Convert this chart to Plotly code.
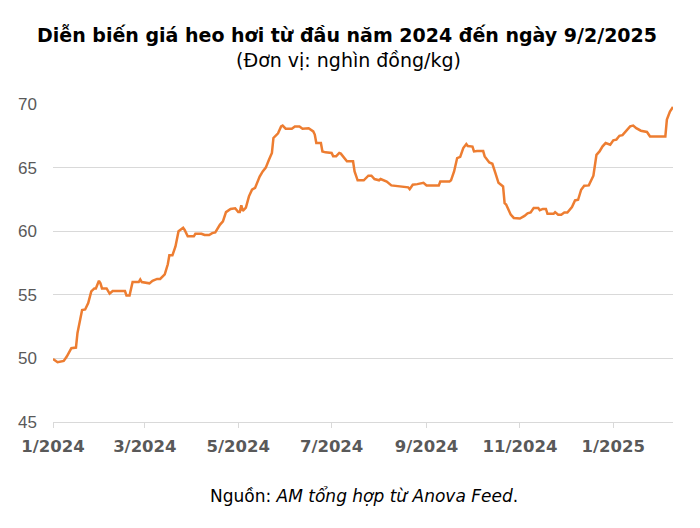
import plotly.graph_objects as go

dates = [
    "2024-01-01", "2024-01-04", "2024-01-08", "2024-01-10", "2024-01-13", "2024-01-16",
    "2024-01-17", "2024-01-19", "2024-01-20", "2024-01-22", "2024-01-24", "2024-01-26",
    "2024-01-28", "2024-01-29", "2024-01-31", "2024-02-01", "2024-02-02", "2024-02-05",
    "2024-02-07", "2024-02-09", "2024-02-17", "2024-02-18", "2024-02-20", "2024-02-22",
    "2024-02-26", "2024-02-27", "2024-02-28", "2024-03-04", "2024-03-06", "2024-03-09",
    "2024-03-11", "2024-03-14", "2024-03-16", "2024-03-17", "2024-03-19", "2024-03-21",
    "2024-03-22", "2024-03-23", "2024-03-26", "2024-03-27", "2024-03-29", "2024-04-02",
    "2024-04-03", "2024-04-07", "2024-04-09", "2024-04-12", "2024-04-14", "2024-04-16",
    "2024-04-19", "2024-04-21", "2024-04-23", "2024-04-26", "2024-04-29", "2024-05-01",
    "2024-05-02", "2024-05-03", "2024-05-04", "2024-05-06", "2024-05-08", "2024-05-10",
    "2024-05-12", "2024-05-15", "2024-05-17", "2024-05-19", "2024-05-21", "2024-05-23",
    "2024-05-24", "2024-05-26", "2024-05-27", "2024-05-29", "2024-05-30", "2024-06-01",
    "2024-06-05", "2024-06-07", "2024-06-10", "2024-06-12", "2024-06-16", "2024-06-19",
    "2024-06-20", "2024-06-21", "2024-06-24", "2024-06-25", "2024-06-27", "2024-07-01",
    "2024-07-02", "2024-07-04", "2024-07-06", "2024-07-07", "2024-07-09", "2024-07-11",
    "2024-07-15", "2024-07-16", "2024-07-18", "2024-07-22", "2024-07-25", "2024-07-27",
    "2024-07-29", "2024-08-01", "2024-08-02", "2024-08-06", "2024-08-09", "2024-08-12",
    "2024-08-14", "2024-08-18", "2024-08-20", "2024-08-21", "2024-08-23", "2024-08-26",
    "2024-08-30", "2024-09-01", "2024-09-09", "2024-09-10", "2024-09-16", "2024-09-17",
    "2024-09-19", "2024-09-21", "2024-09-23", "2024-09-25", "2024-09-27", "2024-09-28",
    "2024-10-01", "2024-10-02", "2024-10-04", "2024-10-08", "2024-10-09", "2024-10-12",
    "2024-10-14", "2024-10-16", "2024-10-18", "2024-10-21", "2024-10-22", "2024-10-23",
    "2024-10-26", "2024-10-28", "2024-11-01", "2024-11-04", "2024-11-06", "2024-11-08",
    "2024-11-10", "2024-11-13", "2024-11-14", "2024-11-16", "2024-11-18", "2024-11-19",
    "2024-11-23", "2024-11-24", "2024-11-26", "2024-11-28", "2024-11-30", "2024-12-02",
    "2024-12-05", "2024-12-07", "2024-12-09", "2024-12-11", "2024-12-13", "2024-12-16",
    "2024-12-18", "2024-12-19", "2024-12-21", "2024-12-23", "2024-12-25", "2024-12-27",
    "2024-12-30", "2025-01-01", "2025-01-03", "2025-01-05", "2025-01-07", "2025-01-09",
    "2025-01-12", "2025-01-14", "2025-01-16", "2025-01-19", "2025-01-23", "2025-01-25",
    "2025-02-04", "2025-02-05", "2025-02-07", "2025-02-09",
]

prices = [
    49.95, 49.7, 49.8, 50.15, 50.8, 50.85,
    52.0, 53.2, 53.8, 53.85, 54.35, 55.27,
    55.5, 55.5, 56.1, 55.9, 55.5, 55.5,
    55.1, 55.3, 55.3, 54.95, 54.95, 56.0,
    56.0, 56.2, 56.0, 55.9, 56.1, 56.25,
    56.25, 56.6, 57.4, 58.1, 58.1, 58.8,
    59.33, 60.0, 60.27, 60.1, 59.6, 59.6,
    59.8, 59.8, 59.7, 59.7, 59.85, 59.9,
    60.5, 60.77, 61.5, 61.75, 61.8, 61.5,
    61.5, 62.03, 61.6, 61.85, 62.74, 63.26,
    63.4, 64.3, 64.7, 65.0, 65.6, 66.15,
    67.33, 67.6, 67.7, 68.24, 68.3, 68.06,
    68.06, 68.24, 68.24, 68.06, 68.1, 67.85,
    67.6, 66.93, 66.93, 66.27, 66.2, 66.15,
    65.9, 65.9, 66.15, 66.1, 65.75, 65.5,
    65.5, 64.7, 64.0, 64.0, 64.36, 64.36,
    64.1, 64.0, 64.1, 63.9, 63.6, 63.55,
    63.5, 63.47, 63.45, 63.3, 63.65, 63.7,
    63.8, 63.6, 63.6, 63.9, 63.9, 64.0,
    64.7, 65.75, 65.85, 66.54, 66.85, 66.7,
    66.65, 66.27, 66.3, 66.3, 65.88, 65.4,
    65.3, 64.57, 63.8, 63.52, 62.2, 62.1,
    61.3, 61.04, 61.0, 61.2, 61.4, 61.47,
    61.82, 61.82, 61.65, 61.75, 61.75, 61.37,
    61.37, 61.5, 61.3, 61.3, 61.47, 61.47,
    61.9, 62.42, 62.47, 63.26, 63.58, 63.6,
    64.18, 64.36, 66.0, 66.27, 66.67, 66.93,
    66.8, 67.14, 67.2, 67.5, 67.55, 67.85,
    68.24, 68.3, 68.1, 67.9, 67.8, 67.45,
    67.45, 68.77, 69.4, 69.76,
]

tick_dates = ["2024-01-01", "2024-03-01", "2024-05-01", "2024-07-01",
              "2024-09-01", "2024-11-01", "2025-01-01"]
tick_labels = ["1/2024", "3/2024", "5/2024", "7/2024", "9/2024", "11/2024", "1/2025"]
y_ticks = [45, 50, 55, 60, 65, 70]

NUM_FONT = "Liberation Sans"
TXT_FONT = "DejaVu Sans"

fig = go.Figure()
fig.add_trace(go.Scatter(
    x=dates, y=prices, mode="lines",
    line=dict(color="#ED7D31", width=2.5),
    hoverinfo="x+y",
))

fig.update_layout(
    width=692, height=520,
    margin=dict(l=45, r=27, t=96, b=106),
    paper_bgcolor="white", plot_bgcolor="white",
    showlegend=False,
    font=dict(family=TXT_FONT, color="#595959"),
    xaxis=dict(
        type="date",
        range=["2024-01-01", "2025-02-09"],
        tickvals=tick_dates, ticktext=tick_labels,
        tickfont=dict(family=TXT_FONT, size=16.5, color="#595959", weight="bold"),
        showgrid=False, zeroline=False,
        showline=True, linecolor="#D9D9D9", linewidth=1,
        ticks="outside", ticklen=5, tickcolor="#D9D9D9",
        ticklabelstandoff=4, automargin=False,
    ),
    yaxis=dict(
        range=[45, 70],
        tickvals=y_ticks,
        tickfont=dict(family=NUM_FONT, size=17, color="#595959"),
        showgrid=True, gridcolor="#D9D9D9", gridwidth=1,
        zeroline=False, showline=False, ticks="",
        ticklabelstandoff=15, automargin=False,
    ),
    annotations=[
        dict(text="<b>Diễn biến giá heo hơi từ đầu năm 2024 đến ngày 9/2/2025</b>",
             xref="paper", yref="paper", x=0.474, y=1.217,
             xanchor="center", yanchor="middle", showarrow=False,
             font=dict(family=TXT_FONT, size=19, color="#000000")),
        dict(text="(Đơn vị: nghìn đồng/kg)",
             xref="paper", yref="paper", x=0.477, y=1.138,
             xanchor="center", yanchor="middle", showarrow=False,
             font=dict(family=TXT_FONT, size=19, color="#000000")),
        dict(text="Nguồn: <i>AM tổng hợp từ Anova Feed</i>.",
             xref="paper", yref="paper", x=0.502, y=-0.232,
             xanchor="center", yanchor="middle", showarrow=False,
             font=dict(family=TXT_FONT, size=17, color="#000000")),
    ],
)

fig.write_html("out.html")
